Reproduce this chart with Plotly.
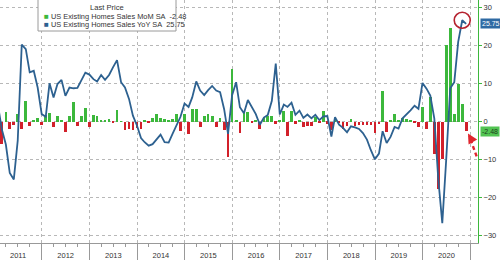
import numpy as np
import pandas as pd
import plotly.graph_objects as go

# ---------------- data (monthly, Jan 2011 .. Nov 2020) ----------------
yoy = [4.0, -2.0, -6.0, -13.5, -15.2, -5.0, 20.3, 19.1, 13.0, 13.4, 9.0, 2.0,
       1.3, 10.1, 6.4, 9.9, 11.0, 6.8, 9.0, 8.8, 8.9, 10.8, 12.9, 12.4,
       11.2, 10.6, 12.3, 11.0, 12.3, 14.3, 16.2, 10.4, 9.0, 6.0, 1.6, -1.0,
       -4.3, -5.4, -6.3, -5.9, -4.7, -3.4, -5.4, -5.5, -3.2, -1.0, 1.3, 4.8,
       3.9, 6.4, 10.6, 8.2, 7.0, 8.3, 9.4, 8.2, 7.8, 3.3, -3.2, 7.0,
       10.4, 3.8, 2.2, 5.7, 4.0, 2.0, -0.8, 1.1, 1.8, 5.5, 15.3, 1.9,
       4.5, 3.9, 5.0, 1.8, 2.9, 1.0, 1.9, 0.9, 1.8, 0.4, 1.4, 1.5,
       -3.9, 1.2, -0.8, -1.6, -2.8, -1.2, -1.5, -1.9, -3.0, -4.7, -7.5, -9.9,
       -8.4, -2.5, -5.6, -4.0, -1.4, -1.8, 0.9, 1.9, 3.0, 4.2, 3.4, 10.2,
       8.7, 6.9, 0.8, -15.0, -26.7, -10.0, 8.8, 10.4, 21.0, 26.7, 25.75]

mom = [0.5, -5.9, 2.5, -2.0, -0.8, 2.0, -1.8, 5.5, -1.0, 0.4, 1.1, -0.8,
       1.8, 2.2, -1.4, 1.5, 0.4, -2.8, 1.4, 5.2, -1.1, 1.6, 3.5, -1.4,
       1.8, 1.6, 0.4, 0.5, 0.8, -0.4, 3.1, 0.1, -2.1, -1.9, -2.3, -1.6,
       -2.0, 0.4, -0.4, 1.1, 2.1, 1.0, 0.6, 0.3, 0.8, 2.1, -2.5, 2.1,
       -3.2, 3.3, 3.3, -1.4, 1.5, 2.0, 1.6, -1.3, 0.9, -2.2, -9.4, 13.9,
       0.3, -3.1, 2.2, 2.5, -0.4, 0.5, -1.8, 1.1, 1.4, 1.6, -0.5, 0.4,
       2.7, -3.8, 2.8, -0.5, 0.3, -1.4, -1.0, -1.1, 1.2, -0.1, 2.9, -0.5,
       -2.3, 0.6, -0.4, -1.8, -1.0, 0.7, -1.0, -0.8, -0.9, -0.9, -0.8, -3.0,
       -0.6, 8.2, -2.7, 0.3, 2.1, 0.2, 0.9, 0.8, 0.2, -0.3, -1.4, 4.0,
       -1.8, 6.4, -8.4, -17.6, -9.7, 20.1, 24.7, 2.1, 10.0, 4.6, -2.48]

dates = pd.date_range("2011-02-01", periods=len(yoy), freq="MS") - pd.Timedelta(days=1)

mom_name = "US Existing Homes Sales MoM SA"
yoy_name = "US Existing Homes Sales YoY SA"
legend_title = "Last Price"
y_ticks = [-30, -20, -10, 0, 10, 20, 30]

# ---------------- style ----------------
GREEN = "#3cb83c"
RED = "#d2202a"
BLUE = "#2d6190"
GRID = "#b8b8b8"
FONT = "Liberation Sans"
PLOT_W, PLOT_H = 478, 243

bar_colors = [GREEN if v >= 0 else RED for v in mom]

fig = go.Figure()
fig.add_trace(go.Bar(x=dates, y=mom, marker=dict(color=bar_colors, line=dict(width=0)),
                     width=21 * 86400000, name=mom_name, showlegend=False))
fig.add_trace(go.Scatter(x=dates, y=yoy, mode="lines", line=dict(color=BLUE, width=1.8),
                         name=yoy_name, showlegend=False))

fig.update_layout(
    width=500, height=260,
    margin=dict(l=0, r=22, t=0, b=17),
    paper_bgcolor="white", plot_bgcolor="white",
    font=dict(family=FONT, size=7.5, color="#333"),
    bargap=0,
)

fig.update_xaxes(
    type="date",
    range=["2011-02-14", "2021-03-01"],
    dtick="M12", tick0="2011-01-01", tickformat="%Y",
    ticklabelmode="period",
    ticks="outside", ticklen=17, tickcolor="#999", tickwidth=1,
    ticklabelstandoff=-12,
    showline=True, linecolor="#999", linewidth=1,
    showgrid=True, gridcolor=GRID, griddash="dot", gridwidth=1,
    minor=dict(dtick="M3", tick0="2011-01-01", ticks="outside", ticklen=3, tickcolor="#999", showgrid=False),
    tickfont=dict(size=7.5, color="#333"),
    zeroline=False,
)

fig.update_yaxes(
    side="right", range=[-31.92, 32.03],
    tickvals=y_ticks,
    ticks="outside", ticklen=3, tickcolor=GREEN,
    showline=True, linecolor=GREEN, linewidth=1,
    showgrid=True, gridcolor=GRID, griddash="dot", gridwidth=1,
    zeroline=False,
    tickfont=dict(size=7.5, color="#333"),
)

# ---------------- legend box (shape + text annotations) ----------------
bx0, bx1, by1 = 38, 176, 31   # pixel extents of the box inside the plot
fig.add_shape(type="rect", xref="paper", yref="paper",
              x0=bx0 / PLOT_W, x1=bx1 / PLOT_W, y0=1 - by1 / PLOT_H, y1=1.02,
              line=dict(color="#9a9a9a", width=1), fillcolor="white", layer="above")
fig.add_annotation(xref="paper", yref="paper", x=(bx0 + bx1) / 2 / PLOT_W, y=1 - 7.5 / PLOT_H,
                   xanchor="center", yanchor="middle", text=legend_title, showarrow=False,
                   font=dict(family=FONT, size=7.6, color="#333"))
for i, (col, name, val) in enumerate([(GREEN, mom_name, mom[-1]), (BLUE, yoy_name, yoy[-1])]):
    fig.add_annotation(xref="paper", yref="paper", x=42 / PLOT_W, y=1 - (16 + 9 * i) / PLOT_H,
                       xanchor="left", yanchor="middle", showarrow=False,
                       text=(f"<span style='color:{col};font-size:8px'>■</span>"
                             f" {name}&nbsp;&nbsp;{val:.2f}"),
                       font=dict(family=FONT, size=7.4, color="#333"))

# ---------------- last value tags ----------------
fig.add_annotation(xref="paper", yref="y", x=1.0, y=yoy[-1], xanchor="left", yanchor="middle",
                   xshift=2, text=f"{yoy[-1]:.2f}", showarrow=False,
                   font=dict(family=FONT, size=7, color="white"), bgcolor="#2f6aa3", borderpad=1)
fig.add_annotation(xref="paper", yref="y", x=1.0, y=mom[-1], xanchor="left", yanchor="middle",
                   xshift=2, text=f"{mom[-1]:.2f}", showarrow=False,
                   font=dict(family=FONT, size=7, color="#1d3d1d"), bgcolor="#52c452", borderpad=1)

# ---------------- red circle around the YoY peak ----------------
pk = int(np.argmax(yoy))
fig.add_shape(type="circle", xref="x", yref="y", xsizemode="pixel", ysizemode="pixel",
              xanchor=dates[pk], yanchor=yoy[pk], x0=-8, x1=8, y0=-8, y1=8,
              line=dict(color="#b5222f", width=1.6))

# ---------------- dashed red arrow pointing at the last MoM bar ----------------
last_d = dates[-1]
day = pd.Timedelta(days=1)
fig.add_shape(type="line", xref="x", yref="y",
              x0=last_d + 34 * day, y0=mom[-1] - 2.2,
              x1=last_d + 86 * day, y1=mom[-1] - 7.2,
              line=dict(color="#e0262e", width=2.4, dash="4px,3px"))
fig.add_annotation(xref="x", yref="y", x=last_d + 14 * day, y=mom[-1] - 0.6,
                   ax=4, ay=7, text="", showarrow=True, arrowhead=2, arrowsize=0.9,
                   arrowwidth=2.2, arrowcolor="#e0262e")

fig.write_html("out.html")
